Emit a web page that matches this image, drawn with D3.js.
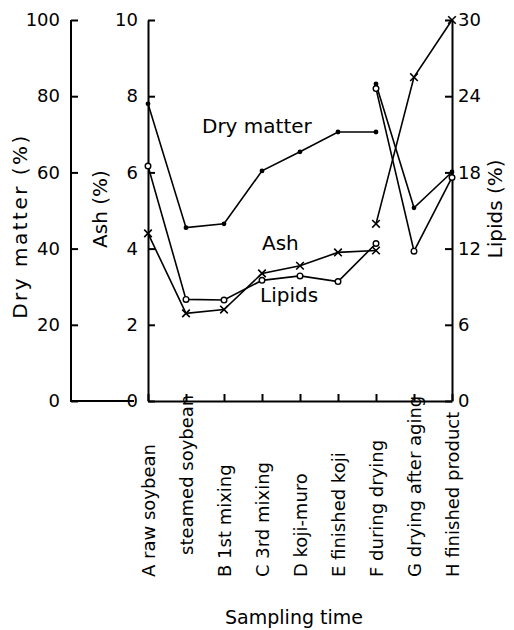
<!DOCTYPE html>
<html>
<head>
<meta charset="utf-8">
<script src="https://cdn.jsdelivr.net/npm/d3@7"></script>
<style>
  body { margin: 0; background: #fff; }
  svg { display: block; font-family: "DejaVu Sans", sans-serif; }
  .axis path, .axis line { stroke: #000; stroke-width: 2; }
  .axis text { font-size: 18px; fill: #000; font-family: "DejaVu Sans", sans-serif; }
</style>
</head>
<body>
<div id="app"></div>
<script>
// sampling stages (index 6 = "during drying" carries a second set of measurements)
var categories = ["A raw soybean", "steamed soybean", "B 1st mixing", "C 3rd mixing",
  "D koji-muro", "E finished koji", "F during drying", "G drying after aging", "H finished product"];

// dry matter (%), left axis
var dryMatter = [78, 45.5, 46.5, 60.4, 65.4, 70.6, 70.6, null, null];
var dryMatterDrying = [null, null, null, null, null, null, 83.2, 50.7, 60.1];
// ash (%), second axis, x marks
var ash = [4.4, 2.3, 2.4, 3.35, 3.55, 3.9, 3.95, null, null];
var ashDrying = [null, null, null, null, null, null, 4.65, 8.5, 10];
// lipids (%), right axis, open circles
var lipids = [18.5, 8.0, 7.95, 9.5, 9.85, 9.4, 12.4, null, null];
var lipidsDrying = [null, null, null, null, null, null, 24.6, 11.8, 17.6];

var dryTicks = [0, 20, 40, 60, 80, 100];
var ashTicks = [0, 2, 4, 6, 8, 10];
var lipidTicks = [0, 6, 12, 18, 24, 30];

var width = 514, height = 630;
var xDry = 71, xLeft = 148, xRight = 452, yTop = 20, yBottom = 401;

var svg = d3.select('#app').append('svg').attr('width', width).attr('height', height);

var x = d3.scalePoint().domain(d3.range(categories.length)).range([xLeft, xRight]);
var yDry = d3.scaleLinear().domain([0, 100]).range([yBottom, yTop]);
var yAsh = d3.scaleLinear().domain([0, 10]).range([yBottom, yTop]);
var yLip = d3.scaleLinear().domain([0, 30]).range([yBottom, yTop]);

// axes
svg.append('g').attr('class', 'axis').attr('transform', 'translate(' + xDry + ',0)')
  .call(d3.axisLeft(yDry).tickValues(dryTicks).tickSize(-7).tickSizeOuter(0).tickPadding(11))
  .call(function(g) { g.select('.domain').attr('d', 'M0,' + yTop + 'V' + yBottom + 'H63'); });

svg.append('g').attr('class', 'axis').attr('transform', 'translate(' + xLeft + ',0)')
  .call(d3.axisLeft(yAsh).tickValues(ashTicks).tickSize(-7).tickSizeOuter(0).tickPadding(10));

svg.append('g').attr('class', 'axis').attr('transform', 'translate(' + xRight + ',0)')
  .call(d3.axisRight(yLip).tickValues(lipidTicks).tickSize(-7).tickSizeOuter(0).tickPadding(6));

var xAxis = svg.append('g').attr('class', 'axis').attr('transform', 'translate(0,' + yBottom + ')')
  .call(d3.axisBottom(x).tickSize(-7).tickSizeOuter(0).tickFormat(function(i) { return categories[i]; }));
xAxis.selectAll('.tick text')
  .attr('x', 0).attr('y', 0).attr('dy', '0.38em')
  .attr('text-anchor', 'start')
  .attr('transform', function(i) { return 'translate(0,' + (i === 1 ? 154 : 176) + ') rotate(-90)'; });

// axis titles
svg.append('text').attr('transform', 'translate(27,226) rotate(-90)')
  .attr('text-anchor', 'middle').style('font-size', '20px').style('letter-spacing', '2.5px')
  .text('Dry matter (%)');
svg.append('text').attr('transform', 'translate(107,209) rotate(-90)')
  .attr('text-anchor', 'middle').style('font-size', '20px').text('Ash (%)');
svg.append('text').attr('transform', 'translate(502,209) rotate(-90)')
  .attr('text-anchor', 'middle').style('font-size', '20px').text('Lipids (%)');
svg.append('text').attr('x', 294).attr('y', 624)
  .attr('text-anchor', 'middle').style('font-size', '19px').text('Sampling time');

// lines
function drawSeries(values, y, marker) {
  var line = d3.line()
    .defined(function(d) { return d != null; })
    .x(function(d, i) { return x(i); })
    .y(function(d) { return y(d); });
  svg.append('path').datum(values).attr('d', line)
    .attr('fill', 'none').attr('stroke', '#000').attr('stroke-width', 1.6);

  var pts = values.map(function(d, i) { return { i: i, v: d }; })
    .filter(function(d) { return d.v != null; });
  var g = svg.append('g');
  if (marker === 'dot') {
    g.selectAll('circle').data(pts).enter().append('circle')
      .attr('cx', function(d) { return x(d.i); }).attr('cy', function(d) { return y(d.v); })
      .attr('r', 2.4).attr('fill', '#000');
  } else if (marker === 'circle') {
    g.selectAll('circle').data(pts).enter().append('circle')
      .attr('cx', function(d) { return x(d.i); }).attr('cy', function(d) { return y(d.v); })
      .attr('r', 2.8).attr('fill', '#fff').attr('stroke', '#000').attr('stroke-width', 1.4);
  } else {
    g.selectAll('path').data(pts).enter().append('path')
      .attr('d', function(d) {
        var cx = x(d.i), cy = y(d.v), s = 3.8;
        return 'M' + (cx - s) + ',' + (cy - s) + 'L' + (cx + s) + ',' + (cy + s) +
               'M' + (cx - s) + ',' + (cy + s) + 'L' + (cx + s) + ',' + (cy - s);
      })
      .attr('stroke', '#000').attr('stroke-width', 1.6);
  }
}

drawSeries(dryMatter, yDry, 'dot');
drawSeries(dryMatterDrying, yDry, 'dot');
drawSeries(ash, yAsh, 'x');
drawSeries(ashDrying, yAsh, 'x');
drawSeries(lipids, yLip, 'circle');
drawSeries(lipidsDrying, yLip, 'circle');

// series labels
svg.append('text').attr('x', 202).attr('y', 133).style('font-size', '20px').text('Dry matter');
svg.append('text').attr('x', 262).attr('y', 250).style('font-size', '20px').text('Ash');
svg.append('text').attr('x', 260).attr('y', 302).style('font-size', '20px').text('Lipids');
</script>
</body>
</html>
